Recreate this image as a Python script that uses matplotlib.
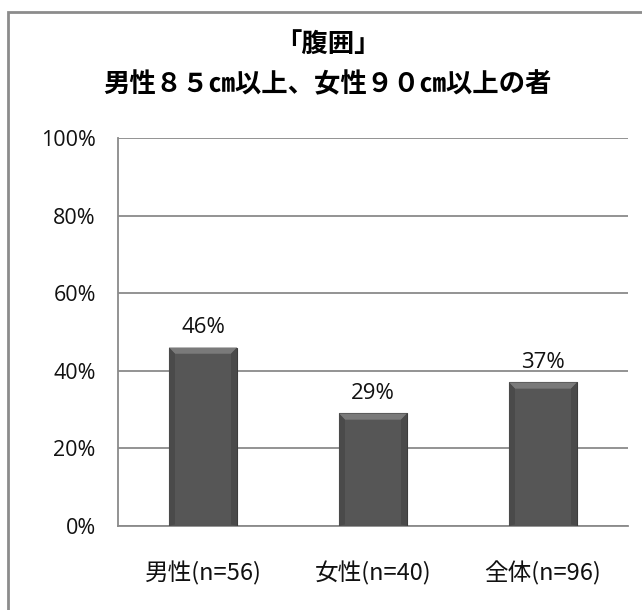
import numpy as np
import matplotlib.pyplot as plt
from matplotlib.patches import Polygon, Rectangle

plt.rcParams['font.family'] = ['Noto Sans CJK JP', 'DejaVu Sans']

# waist circumference data
categories = ['男性(n=56)', '女性(n=40)', '全体(n=96)']
rates = [46, 29, 37]
yticks = [0, 20, 40, 60, 80, 100]
title = '「腹囲」\n男性８５㎝以上、女性９０㎝以上の者'

fig = plt.figure(figsize=(6.42, 6.10), dpi=100)
ax = fig.add_axes([0.1838, 0.1377, 0.7944, 0.6361])

# outer chart frame (left/top edges only show)
fig.patches.append(Rectangle((8/642, -0.1), 1.2, 1 - 12/610 + 0.1,
                             transform=fig.transFigure, fill=False,
                             edgecolor='#8c8c8c', linewidth=2))

x = np.arange(len(categories))
w = 0.4
bars = ax.bar(x, rates, width=w, color='#565656', edgecolor='#3c3c3c',
              linewidth=0.8, zorder=3)

# bevel highlight along the top of each bar
for b in bars:
    x0, x1 = b.get_x(), b.get_x() + b.get_width()
    h = b.get_height()
    d = 0.035
    ax.add_patch(Polygon([[x0, h], [x1, h], [x1 - d, h - 1.6], [x0 + d, h - 1.6]],
                         closed=True, facecolor='#7a7a7a', edgecolor='none', zorder=4))
    ax.add_patch(Polygon([[x0, 0], [x0 + d, 0.4], [x0 + d, h - 1.6], [x0, h]],
                         closed=True, facecolor='#4a4a4a', edgecolor='none', zorder=4))
    ax.add_patch(Polygon([[x1, 0], [x1 - d, 0.4], [x1 - d, h - 1.6], [x1, h]],
                         closed=True, facecolor='#4a4a4a', edgecolor='none', zorder=4))

for xi, v in zip(x, rates):
    ax.text(xi, v + 2.5, f'{v}%', ha='center', va='bottom', fontsize=16,
            family=['Open Sans', 'DejaVu Sans'], color='#111111')

ax.set_xlim(-0.5, 2.5)
ax.set_ylim(0, 100)
ax.set_yticks(yticks)
ax.set_yticklabels([f'{t}%' for t in yticks], fontsize=15.5,
                   family=['Open Sans', 'DejaVu Sans'], color='#111111')
ax.set_xticks(x)
ax.set_xticklabels(categories, fontsize=17, color='#111111')
ax.tick_params(axis='y', length=0, pad=16)
ax.tick_params(axis='x', length=0, pad=25)
ax.yaxis.grid(True, color='#8a8a8a', linewidth=1.3, zorder=0)
ax.set_axisbelow(True)

for s in ['top', 'right']:
    ax.spines[s].set_visible(False)
for s in ['left', 'bottom']:
    ax.spines[s].set_color('#8a8a8a')
    ax.spines[s].set_linewidth(1.3)

fig.text(0.51, 0.893, title, ha='center', va='center', fontsize=19,
         fontweight='bold', linespacing=1.6)

fig.savefig('out.png', dpi=100)
